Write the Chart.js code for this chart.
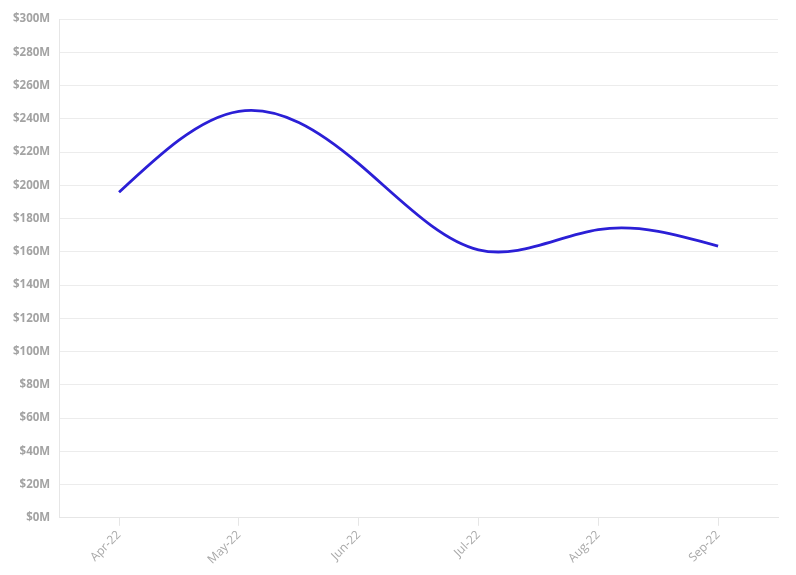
<!DOCTYPE html>
<html lang="en">
<head>
  <meta charset="UTF-8">
  <title>Monthly Value</title>
  <script src="https://cdn.jsdelivr.net/npm/chart.js"></script>
  <style>
    html, body { margin: 0; padding: 0; background: #fff; }
    .wrap { width: 796px; height: 575px; }
  </style>
</head>
<body>
  <div class="wrap">
    <canvas id="grafica" width="796" height="575"></canvas>
  </div>

  <script>
    // months on the x axis
    const meses = ["Apr-22", "May-22", "Jun-22", "Jul-22", "Aug-22", "Sep-22"];
    // values in millions of dollars
    const valores = [195.8, 244.5, 213, 161.2, 173.3, 163.4];

    // the original curve is a natural cubic spline, so the bezier control
    // points chart.js made are replaced with natural-spline ones (pixel space)
    const curvaNatural = {
      id: 'curvaNatural',
      beforeDatasetDraw(chart, args) {
        const meta = args.meta;
        const line = meta.dataset;
        line.updateControlPoints(chart.chartArea, meta.iScale.axis);
        const pts = meta.data;
        const n = pts.length;
        if (n < 3) return;
        const x = pts.map(p => p.x), y = pts.map(p => p.y);
        const h = [];
        for (let i = 0; i < n - 1; i++) h.push(x[i + 1] - x[i]);

        // tridiagonal solve for second derivatives, M0 = Mn-1 = 0
        const M = new Array(n).fill(0);
        const a = [], b = [], c = [], d = [];
        for (let i = 1; i < n - 1; i++) {
          a.push(h[i - 1]);
          b.push(2 * (h[i - 1] + h[i]));
          c.push(h[i]);
          d.push(6 * ((y[i + 1] - y[i]) / h[i] - (y[i] - y[i - 1]) / h[i - 1]));
        }
        const m = b.length;
        for (let i = 1; i < m; i++) {
          const w = a[i] / b[i - 1];
          b[i] -= w * c[i - 1];
          d[i] -= w * d[i - 1];
        }
        M[m] = d[m - 1] / b[m - 1];
        for (let i = m - 2; i >= 0; i--) M[i + 1] = (d[i] - c[i] * M[i + 2]) / b[i];

        const D = [];
        for (let i = 0; i < n - 1; i++) D.push((y[i + 1] - y[i]) / h[i] - h[i] * (2 * M[i] + M[i + 1]) / 6);
        D.push((y[n - 1] - y[n - 2]) / h[n - 2] + h[n - 2] * (M[n - 2] + 2 * M[n - 1]) / 6);

        for (let i = 0; i < n; i++) {
          if (i < n - 1) {
            pts[i].cp2x = x[i] + h[i] / 3;
            pts[i].cp2y = y[i] + D[i] * h[i] / 3;
          }
          if (i > 0) {
            pts[i].cp1x = x[i] - h[i - 1] / 3;
            pts[i].cp1y = y[i] - D[i] * h[i - 1] / 3;
          }
        }
      }
    };

    const ctx = document.getElementById("grafica").getContext("2d");
    new Chart(ctx, {
      type: 'line',
      data: {
        labels: meses,
        datasets: [{
          label: 'Value',
          data: valores,
          borderColor: '#2b1fd6',
          backgroundColor: '#2b1fd6',
          borderWidth: 2.8,
          tension: 0.4,
          fill: false,
          pointRadius: 0,
          pointHoverRadius: 0
        }]
      },
      plugins: [curvaNatural],
      options: {
        responsive: false,
        animation: false,
        layout: { padding: { top: 19, right: 18, left: 4, bottom: 6 } },
        plugins: {
          legend: { display: false },
          tooltip: { enabled: false }
        },
        scales: {
          x: {
            offset: true,
            grid: {
              drawOnChartArea: false,
              color: '#e6e6e6',
              tickLength: 8,
              offset: false
            },
            border: { color: '#e6e6e6' },
            ticks: {
              color: '#a8a8a8',
              font: { family: 'Open Sans', size: 12 },
              maxRotation: 45,
              minRotation: 45,
              padding: 2
            }
          },
          y: {
            min: 0,
            max: 300,
            grid: { color: '#ececec', drawTicks: false },
            border: { color: '#e6e6e6' },
            ticks: {
              stepSize: 20,
              color: '#a3a3a3',
              padding: 9,
              font: { family: 'Open Sans', size: 11.5, weight: 'bold' },
              callback: v => '$' + v + 'M'
            }
          }
        }
      }
    });
  </script>
</body>
</html>
